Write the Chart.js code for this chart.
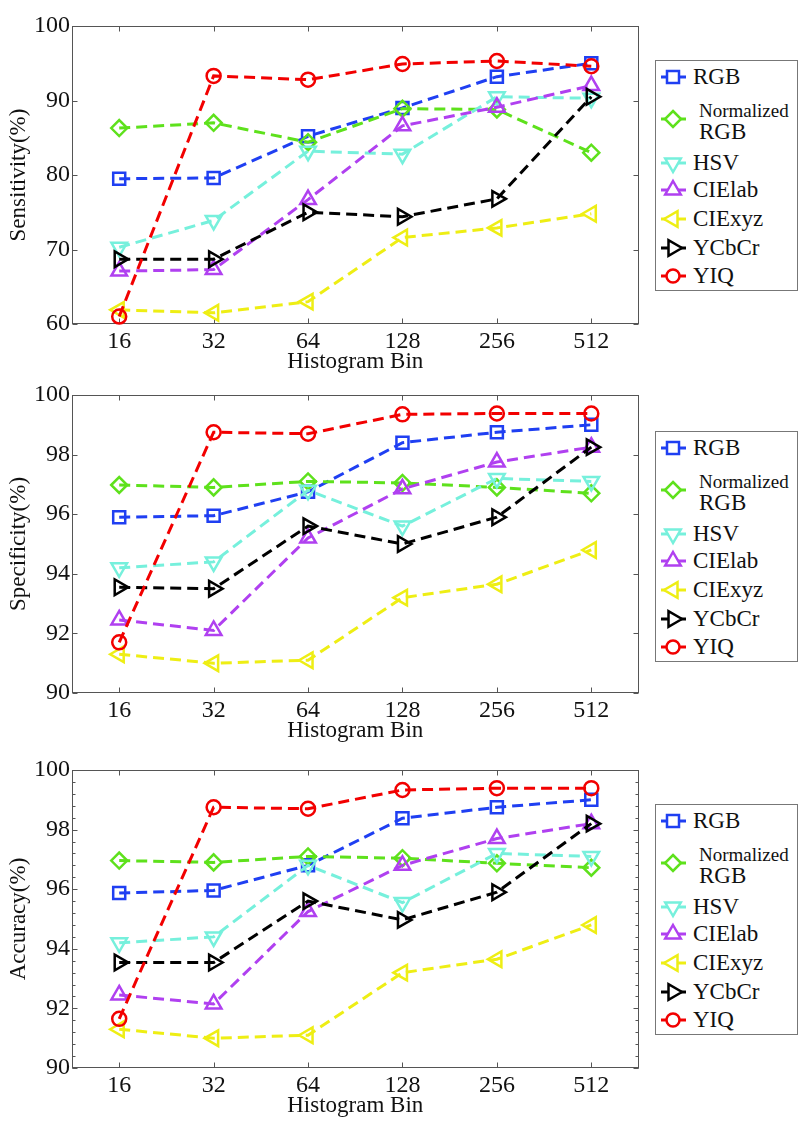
<!DOCTYPE html>
<html><head><meta charset="utf-8">
<script src="https://cdn.jsdelivr.net/npm/chart.js@4/dist/chart.umd.min.js"></script>
<style>
html,body{margin:0;padding:0;background:#fff;}
body{width:808px;height:1123px;position:relative;overflow:hidden;font-family:'Liberation Serif','Times New Roman',serif;}
.wrap{position:absolute;left:0;width:650px;height:376px;}
.legend{position:absolute;left:655px;width:141px;height:229px;border:1px solid #777;background:#fff;}
.item{position:absolute;left:0;width:141px;height:24px;}
.item span{position:absolute;left:37px;line-height:24px;font-size:23px;color:#111;white-space:nowrap;}
.item svg{position:absolute;left:4px;top:0;}
</style></head>
<body>
<div class="wrap" style="top:0px"><canvas id="c0" width="650" height="376"></canvas></div>
<div class="wrap" style="top:369px"><canvas id="c1" width="650" height="376"></canvas></div>
<div class="wrap" style="top:744px"><canvas id="c2" width="650" height="376"></canvas></div>
<div id="legends"></div>
<script>
// ---------- data ----------
const bins = ['16', '32', '64', '128', '256', '512'];
const seriesNames = ['RGB', 'Normalized RGB', 'HSV', 'CIElab', 'CIExyz', 'YCbCr', 'YIQ'];
const seriesColors = ['#1f3ff2', '#5ee11c', '#76f0dc', '#b040f0', '#eeee14', '#000000', '#f20000'];
const seriesMarkers = ['square', 'diamond', 'triDown', 'triUp', 'triLeft', 'triRight', 'circle'];

const sensRGB     = [79.5, 79.6, 85.2, 89.0, 93.2, 95.0];
const sensNormRGB = [86.3, 87.0, 84.4, 88.9, 88.8, 83.0];
const sensHSV     = [70.3, 73.9, 83.2, 82.8, 90.5, 90.3];
const sensCIElab  = [67.1, 67.3, 76.7, 86.6, 89.1, 92.0];
const sensCIExyz  = [61.9, 61.5, 63.0, 71.6, 72.9, 74.8];
const sensYCbCr   = [68.7, 68.7, 75.0, 74.4, 76.8, 90.5];
const sensYIQ     = [61.0, 93.3, 92.8, 94.9, 95.3, 94.6];

const specRGB     = [95.9, 95.95, 96.75, 98.4, 98.75, 99.0];
const specNormRGB = [96.98, 96.9, 97.1, 97.05, 96.9, 96.7];
const specHSV     = [94.2, 94.4, 96.8, 95.6, 97.2, 97.1];
const specCIElab  = [92.45, 92.1, 95.2, 96.85, 97.75, 98.25];
const specCIExyz  = [91.3, 91.0, 91.1, 93.2, 93.65, 94.8];
const specYCbCr   = [93.55, 93.5, 95.6, 95.0, 95.9, 98.25];
const specYIQ     = [91.7, 98.75, 98.7, 99.35, 99.38, 99.38];

const accRGB      = [95.87, 95.96, 96.8, 98.38, 98.75, 99.0];
const accNormRGB  = [96.96, 96.9, 97.1, 97.04, 96.87, 96.72];
const accHSV      = [94.2, 94.4, 96.8, 95.55, 97.2, 97.1];
const accCIElab   = [92.45, 92.15, 95.25, 96.8, 97.7, 98.2];
const accCIExyz   = [91.3, 91.0, 91.1, 93.2, 93.65, 94.8];
const accYCbCr    = [93.54, 93.54, 95.6, 94.97, 95.9, 98.2];
const accYIQ      = [91.65, 98.75, 98.7, 99.33, 99.39, 99.39];

const yTitles = ['Sensitivity(%)', 'Specificity(%)', 'Accuracy(%)'];
const xTitle = 'Histogram Bin';
const yMins = [60, 90, 90];
const yMaxs = [100, 100, 100];
const ySteps = [10, 2, 2];
const yMinorSteps = [0, 0, 0.4];

const chartSeries = [
  [sensRGB, sensNormRGB, sensHSV, sensCIElab, sensCIExyz, sensYCbCr, sensYIQ],
  [specRGB, specNormRGB, specHSV, specCIElab, specCIExyz, specYCbCr, specYIQ],
  [accRGB, accNormRGB, accHSV, accCIElab, accCIExyz, accYCbCr, accYIQ]
];

// ---------- styling ----------
const FONT = "'Liberation Serif', 'Times New Roman', Times, serif";
Chart.defaults.font.family = FONT;
const markerStyle = {
  square:   {style: 'rect',     rot: 0,   r: 8.5},
  diamond:  {style: 'rectRot',  rot: 0,   r: 8},
  triDown:  {style: 'triangle', rot: 180, r: 9},
  triUp:    {style: 'triangle', rot: 0,   r: 9},
  triLeft:  {style: 'triangle', rot: 270, r: 9},
  triRight: {style: 'triangle', rot: 90,  r: 9},
  circle:   {style: 'circle',   rot: 0,   r: 7}
};

const framePlugin = {
  id: 'frame',
  beforeDatasetsDraw(chart, args, opts) {
    const {ctx, chartArea: a, scales} = chart;
    const xs = scales.x, ys = scales.y;
    ctx.save();
    ctx.strokeStyle = '#555';
    ctx.lineWidth = 1;
    const L = Math.round(a.left) + 0.5, R = Math.round(a.right) - 0.5;
    const T = Math.round(a.top) + 0.5, B = Math.round(a.bottom) - 0.5;
    ctx.strokeRect(L, T, R - L, B - T);
    ctx.beginPath();
    ys.ticks.forEach(t => {
      const py = Math.round(ys.getPixelForValue(t.value)) + 0.5;
      ctx.moveTo(L, py); ctx.lineTo(L + 5, py);
      ctx.moveTo(R, py); ctx.lineTo(R - 5, py);
    });
    if (opts.minor) {
      const n = Math.round((ys.max - ys.min) / opts.minor);
      for (let i = 0; i <= n; i++) {
        const py = Math.round(ys.getPixelForValue(ys.min + i * opts.minor)) + 0.5;
        ctx.moveTo(L, py); ctx.lineTo(L + 3, py);
        ctx.moveTo(R, py); ctx.lineTo(R - 3, py);
      }
    }
    xs.ticks.forEach((t, i) => {
      const px = Math.round(xs.getPixelForTick(i)) + 0.5;
      ctx.moveTo(px, B); ctx.lineTo(px, B - 5);
      ctx.moveTo(px, T); ctx.lineTo(px, T + 5);
    });
    ctx.stroke();
    ctx.restore();
  }
};

function makeChart(k) {
  const datasets = seriesNames.map((name, i) => {
    const m = markerStyle[seriesMarkers[i]];
    return {
      label: name,
      data: chartSeries[k][i],
      borderColor: seriesColors[i],
      backgroundColor: 'rgba(0,0,0,0)',
      borderWidth: 3,
      borderDash: [11, 6],
      pointStyle: m.style,
      pointRotation: m.rot,
      pointRadius: m.r,
      pointBorderWidth: 2.5,
      pointBorderColor: seriesColors[i],
      pointBackgroundColor: 'rgba(0,0,0,0)',
      tension: 0,
      order: seriesNames.length - 1 - i,
      clip: false
    };
  });
  new Chart(document.getElementById('c' + k), {
    type: 'line',
    data: {labels: bins, datasets},
    options: {
      responsive: false,
      animation: false,
      devicePixelRatio: 1,
      layout: {padding: {top: 26, right: 8, left: 0, bottom: 0}},
      plugins: {legend: {display: false}, tooltip: {enabled: false}, frame: {minor: yMinorSteps[k]}},
      scales: {
        x: {
          type: 'category', offset: true,
          grid: {display: false, drawTicks: false}, border: {display: false},
          ticks: {font: {size: 24}, color: '#111', padding: 3, maxRotation: 0, autoSkip: false},
          title: {display: true, text: xTitle, font: {size: 23}, color: '#111', padding: {top: 0, bottom: 0}},
          afterFit(s) { s.height = 52; }
        },
        y: {
          min: yMins[k], max: yMaxs[k],
          grid: {display: false, drawTicks: false}, border: {display: false},
          ticks: {stepSize: ySteps[k], font: {size: 24}, color: '#111', padding: 2},
          title: {display: true, text: yTitles[k], font: {size: 23}, color: '#111', padding: {top: 5, bottom: 0}},
          afterFit(s) { s.width = 72; }
        }
      }
    },
    plugins: [framePlugin]
  });
}
[0, 1, 2].forEach(makeChart);

// ---------- legends (HTML text + SVG icons) ----------
const legendTops = [60, 431, 804];
const itemCenters = [16, 58, 102, 129, 158, 187, 215];
function markerSVG(type, color) {
  const cx = 13, cy = 12;
  let shape = '';
  const tri = (rotDeg, r) => {
    const pts = [0, 120, 240].map(a => {
      const rad = (a + rotDeg) * Math.PI / 180;
      return (cx + Math.sin(rad) * r).toFixed(2) + ',' + (cy - Math.cos(rad) * r).toFixed(2);
    });
    return '<polygon points="' + pts.join(' ') + '" fill="#fff" stroke="' + color + '" stroke-width="2.5"/>';
  };
  if (type === 'square') shape = '<rect x="' + (cx - 6) + '" y="' + (cy - 6) + '" width="12" height="12" fill="#fff" stroke="' + color + '" stroke-width="2.5"/>';
  else if (type === 'diamond') shape = '<polygon points="' + cx + ',' + (cy - 8) + ' ' + (cx + 8) + ',' + cy + ' ' + cx + ',' + (cy + 8) + ' ' + (cx - 8) + ',' + cy + '" fill="#fff" stroke="' + color + '" stroke-width="2.5"/>';
  else if (type === 'circle') shape = '<circle cx="' + cx + '" cy="' + cy + '" r="6.5" fill="#fff" stroke="' + color + '" stroke-width="2.5"/>';
  else if (type === 'triDown') shape = tri(180, 9);
  else if (type === 'triUp') shape = tri(0, 9);
  else if (type === 'triLeft') shape = tri(270, 9);
  else if (type === 'triRight') shape = tri(90, 9);
  return '<svg width="30" height="24" viewBox="0 0 30 24"><line x1="1" y1="12" x2="26" y2="12" stroke="' + color + '" stroke-width="3"/>' + shape + '</svg>';
}
const legendsEl = document.getElementById('legends');
legendTops.forEach(top => {
  const box = document.createElement('div');
  box.className = 'legend';
  box.style.top = top + 'px';
  seriesNames.forEach((name, i) => {
    const it = document.createElement('div');
    it.className = 'item';
    it.style.top = (itemCenters[i] - 12) + 'px';
    let label;
    if (name === 'Normalized RGB') {
      const parts = name.split(' ');
      label = '<span style="left:43px;top:-8px;font-size:19px;">' + parts[0] + '</span>' +
              '<span style="left:43px;top:13px;">' + parts[1] + '</span>';
    } else {
      label = '<span style="top:0">' + name + '</span>';
    }
    it.innerHTML = markerSVG(seriesMarkers[i], seriesColors[i]) + label;
    box.appendChild(it);
  });
  legendsEl.appendChild(box);
});
</script>
</body></html>
